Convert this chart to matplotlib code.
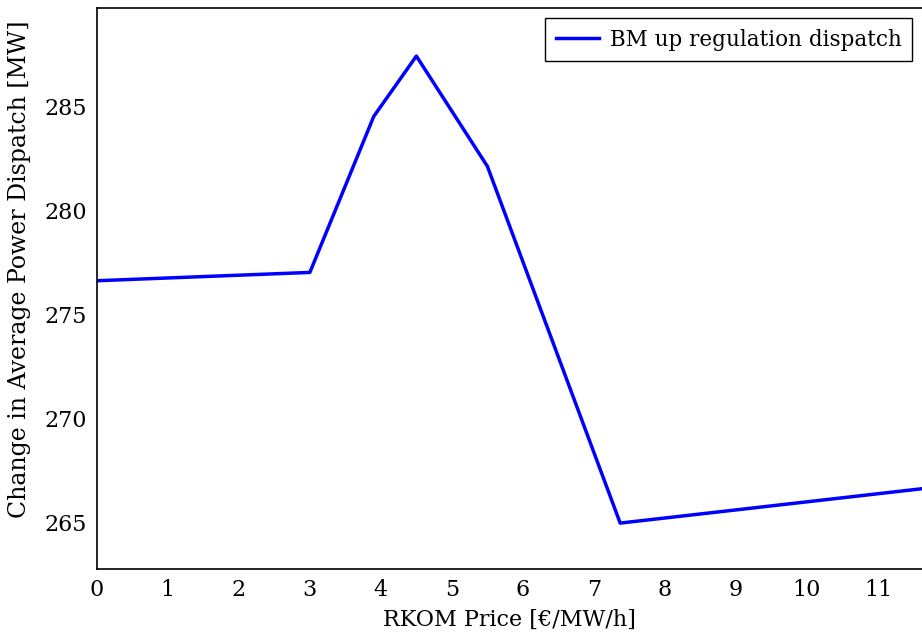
import matplotlib
matplotlib.use("Agg")
import matplotlib.pyplot as plt

# RKOM price vs change in average power dispatch
price = [0.0, 3.0, 3.9, 4.5, 5.5, 7.37, 12.0]
dispatch = [276.6, 277.0, 284.5, 287.4, 282.1, 264.95, 266.75]
x_ticks = list(range(0, 12))
y_ticks = [265, 270, 275, 280, 285]

plt.rcParams['font.family'] = ['DejaVu Serif']
plt.rcParams['font.size'] = 16

fig = plt.figure(figsize=(9.22, 6.33), dpi=100)
ax = fig.add_axes([0.105, 0.101, 0.895, 0.886])

ax.plot(price, dispatch, color="#0000ff", linewidth=2.5, label="BM up regulation dispatch")

ax.set_xlim(0, 11.62)
ax.set_ylim(262.74, 289.7)
ax.set_xticks(x_ticks)
ax.set_yticks(y_ticks)
ax.tick_params(length=0, pad=7)
ax.spines['right'].set_visible(False)
for s in ['top', 'left', 'bottom']:
    ax.spines[s].set_linewidth(1.2)

ax.set_xlabel("RKOM Price [€/MW/h]", labelpad=6)
ax.set_ylabel("Change in Average Power Dispatch [MW]", fontsize=17)
ax.yaxis.set_label_coords(-0.08, 0.535)

leg = ax.legend(loc="upper right", fancybox=False, edgecolor="black",
                framealpha=1, borderaxespad=0.45, handlelength=2.0,
                handletextpad=0.5, borderpad=0.5, fontsize=15.5)
leg.get_frame().set_linewidth(1.0)

fig.savefig("out.png", dpi=100)
